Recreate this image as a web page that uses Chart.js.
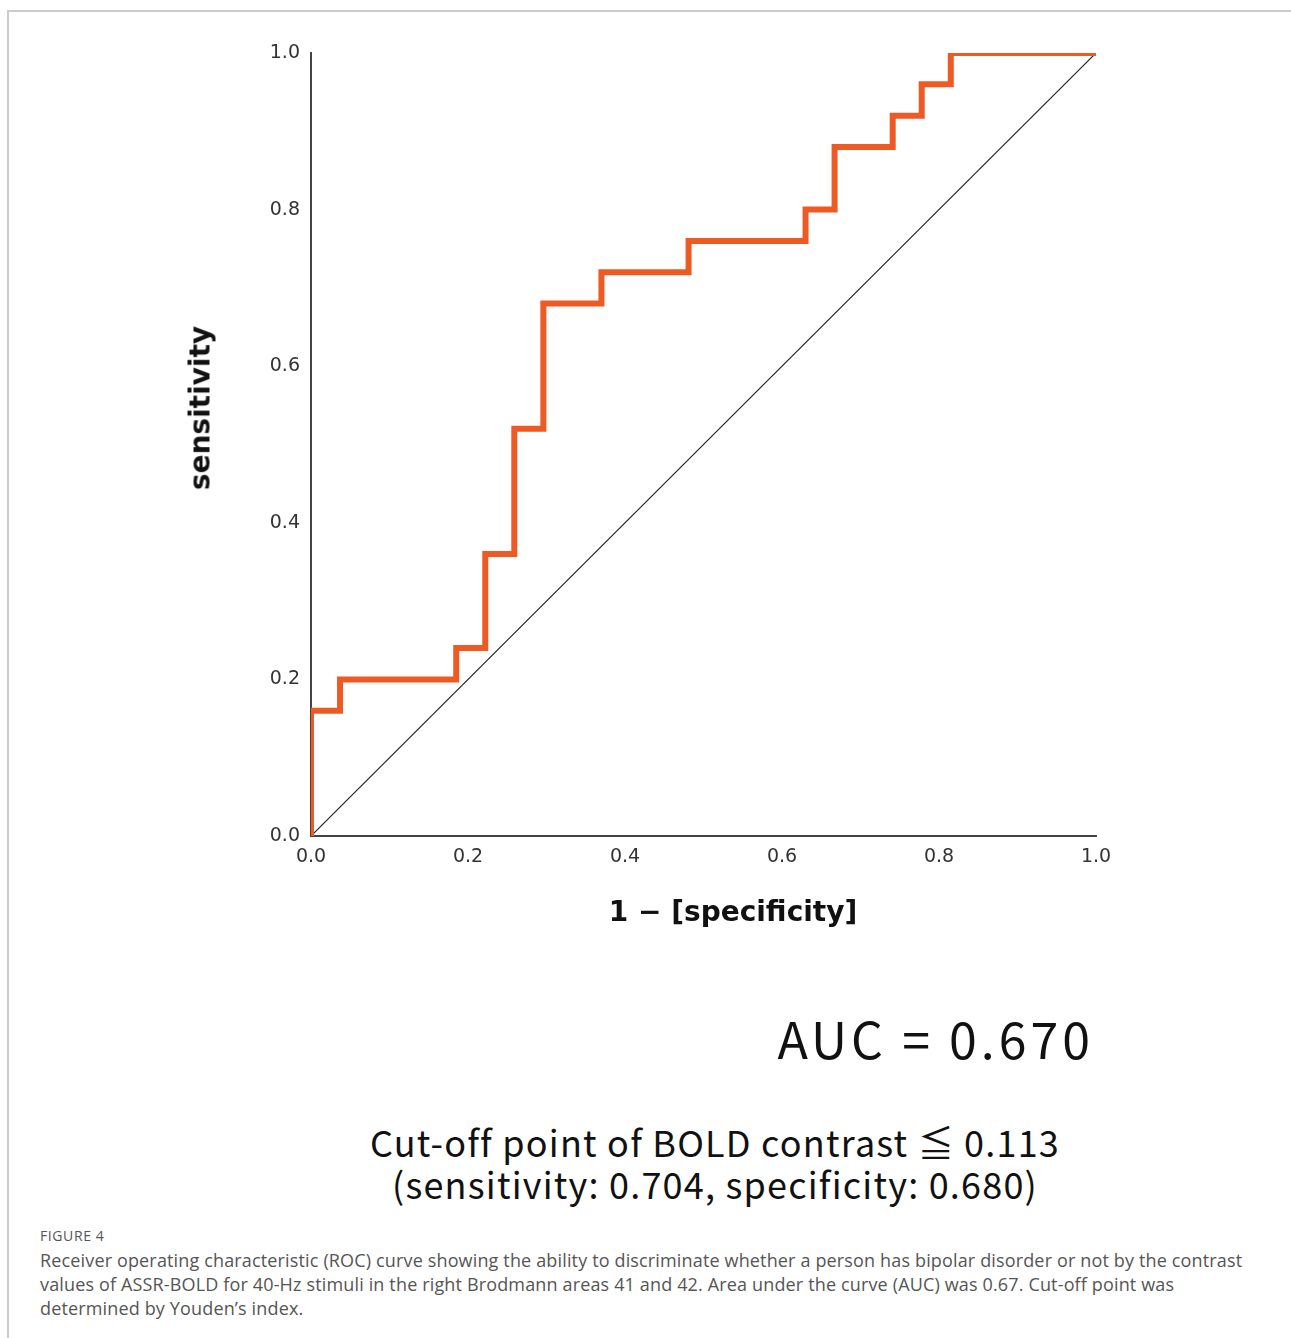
<!DOCTYPE html>
<html>
<head>
<meta charset="utf-8">
<title>ROC curve</title>
<script src="https://cdn.jsdelivr.net/npm/chart.js@4.4.1/dist/chart.umd.min.js"></script>
<style>
  html, body {
    margin: 0;
    padding: 0;
    background: #ffffff;
  }
  .page {
    position: relative;
    width: 1291px;
    height: 1338px;
    overflow: hidden;
  }
  .frame {
    position: absolute;
    left: 7px;
    top: 10px;
    right: -10px;
    bottom: -10px;
    border-left: 2px solid #cccccc;
    border-top: 2px solid #cccccc;
  }
  .chart-box {
    position: absolute;
    left: 0;
    top: 0;
    width: 1291px;
    height: 960px;
  }
  .axis-title {
    position: absolute;
    font-family: "DejaVu Sans", sans-serif;
    font-weight: 700;
    font-size: 28px;
    color: #111111;
    white-space: nowrap;
    transform: translate(-50%, -50%);
  }
  .y-title {
    left: 200px;
    top: 408px;
    transform: translate(-50%, -50%) rotate(-90deg);
  }
  .x-title {
    left: 733px;
    top: 911px;
  }
  .auc {
    position: absolute;
    right: 197px;
    top: 1007px;
    font-family: "Noto Sans CJK JP", "DejaVu Sans", sans-serif;
    font-size: 50px;
    line-height: 60px;
    letter-spacing: 4px;
    color: #111111;
    white-space: nowrap;
  }
  .cutoff {
    position: absolute;
    left: 715px;
    top: 1120px;
    transform: translateX(-50%);
    font-family: "Noto Sans CJK JP", "DejaVu Sans", sans-serif;
    font-size: 36px;
    line-height: 42px;
    letter-spacing: 1.2px;
    color: #111111;
    text-align: center;
    white-space: nowrap;
  }
  .fig-label {
    position: absolute;
    left: 40px;
    top: 1226px;
    font-family: "Open Sans", sans-serif;
    font-size: 14px;
    letter-spacing: 0.6px;
    color: #555555;
  }
  .caption {
    position: absolute;
    left: 40px;
    top: 1248px;
    font-family: "Open Sans", sans-serif;
    font-size: 18px;
    line-height: 24px;
    letter-spacing: 0.15px;
    color: #555555;
    white-space: nowrap;
  }
</style>
</head>
<body>
<div class="page">
  <div class="frame"></div>
  <div class="chart-box"><canvas id="rocChart"></canvas></div>
  <div class="axis-title y-title">sensitivity</div>
  <div class="axis-title x-title">1 − [specificity]</div>
  <div class="auc">AUC = 0.670</div>
  <div class="cutoff">Cut-off point of BOLD contrast ≦ 0.113<br>(sensitivity: 0.704, specificity: 0.680)</div>
  <div class="fig-label">FIGURE 4</div>
  <div class="caption">Receiver operating characteristic (ROC) curve showing the ability to discriminate whether a person has bipolar disorder or not by the contrast<br>values of ASSR-BOLD for 40-Hz stimuli in the right Brodmann areas 41 and 42. Area under the curve (AUC) was 0.67. Cut-off point was<br>determined by Youden’s index.</div>
</div>

<script>
// ROC corner points (1 - specificity, sensitivity)
const falsePositiveRate = [0, 0, 0.037, 0.185, 0.222, 0.259, 0.296, 0.370, 0.481, 0.630, 0.667, 0.741, 0.778, 0.815, 1.0];
const truePositiveRate  = [0, 0.16, 0.20, 0.24, 0.36, 0.52, 0.68, 0.72, 0.76, 0.80, 0.88, 0.92, 0.96, 1.0, 1.0];

// chance line
const chanceX = [0, 1];
const chanceY = [0, 1];

const tickValues = [0, 0.2, 0.4, 0.6, 0.8, 1.0];

const ROC_COLOR = "#ee5a24";
const AXIS_COLOR = "#444444";

function toPoints(xs, ys) {
  return xs.map((x, i) => ({ x: x, y: ys[i] }));
}

function tickFont() {
  return {
    family: "'DejaVu Sans', sans-serif",
    size: 19
  };
}

function renderRocChart() {
  const ctx = document.getElementById("rocChart");

  new Chart(ctx, {
    type: "line",
    data: {
      datasets: [
        {
          label: "ROC",
          data: toPoints(falsePositiveRate, truePositiveRate),
          borderColor: ROC_COLOR,
          borderWidth: 6,
          stepped: "before",
          pointRadius: 0,
          borderJoinStyle: "miter",
          borderCapStyle: "round",
          fill: false,
          order: 1
        },
        {
          label: "Reference",
          data: toPoints(chanceX, chanceY),
          borderColor: "#222222",
          borderWidth: 1.2,
          pointRadius: 0,
          fill: false,
          order: 2
        }
      ]
    },
    options: {
      responsive: true,
      maintainAspectRatio: false,
      animation: false,
      events: [],
      layout: {
        padding: { top: 53, right: 195, bottom: 0, left: 0 }
      },
      plugins: {
        legend: { display: false },
        tooltip: { enabled: false }
      },
      scales: {
        x: {
          type: "linear",
          min: 0,
          max: 1,
          afterFit: scale => { scale.height = 124; },
          afterBuildTicks: scale => {
            scale.ticks = tickValues.map(v => ({ value: v }));
          },
          grid: { display: false, drawTicks: false },
          border: { display: true, color: AXIS_COLOR, width: 2 },
          ticks: {
            padding: 10,
            color: "#333333",
            font: tickFont(),
            maxRotation: 0,
            callback: value => Number(value).toFixed(1)
          }
        },
        y: {
          type: "linear",
          min: 0,
          max: 1,
          afterFit: scale => { scale.width = 311; },
          afterBuildTicks: scale => {
            scale.ticks = tickValues.map(v => ({ value: v }));
          },
          grid: { display: false, drawTicks: false },
          border: { display: true, color: AXIS_COLOR, width: 2 },
          ticks: {
            padding: 11,
            color: "#333333",
            font: tickFont(),
            callback: value => Number(value).toFixed(1)
          }
        }
      }
    }
  });
}

renderRocChart();
</script>
</body>
</html>
